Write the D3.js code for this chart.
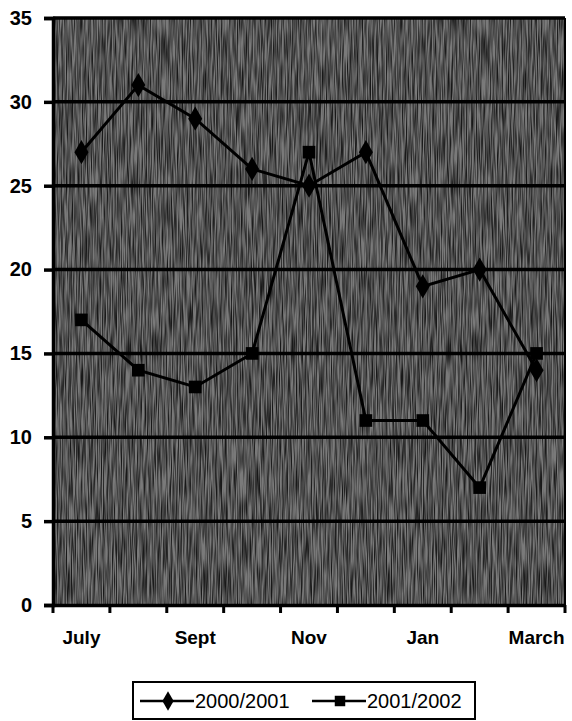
<!DOCTYPE html>
<html><head><meta charset="utf-8">
<script src="https://cdn.jsdelivr.net/npm/d3@7"></script>
<style>body{margin:0;background:#fff}svg{display:block}</style>
</head><body>
<script>
const months = ["July","Aug","Sept","Oct","Nov","Dec","Jan","Feb","March"];
const shownLabels = ["July","Sept","Nov","Jan","March"];
const s2000 = [27,31,29,26,25,27,19,20,14];
const s2002 = [17,14,13,15,27,11,11,7,15];
const seriesNames = ["2000/2001","2001/2002"];
const yTicks = [0,5,10,15,20,25,30,35];

const W=572,H=721;
const m={l:53,r:565,t:18,b:605};
const FONT="Liberation Sans, Arial, sans-serif";
const svg=d3.select("body").append("svg").attr("width",W).attr("height",H);
const defs=svg.append("defs");
const f=defs.append("filter").attr("id","grain").attr("x",0).attr("y",0).attr("width","100%").attr("height","100%");
f.append("feTurbulence").attr("type","fractalNoise").attr("baseFrequency","0.8 0.03").attr("numOctaves",2).attr("seed",5);
f.append("feColorMatrix").attr("type","matrix").attr("values","0 0 0 0 0  0 0 0 0 0  0 0 0 0 0  0 0 0 -2.2 1.5");

const x=d3.scaleBand().domain(months).range([m.l,m.r]);
const y=d3.scaleLinear().domain([0,35]).range([m.b,m.t]);

svg.append("rect").attr("x",m.l).attr("y",m.t).attr("width",m.r-m.l).attr("height",m.b-m.t).attr("fill","#7a7a7a");
svg.append("rect").attr("x",m.l).attr("y",m.t).attr("width",m.r-m.l).attr("height",m.b-m.t).attr("fill","#ffffff").attr("filter","url(#grain)").attr("opacity",0.8);

// gridlines
svg.append("g").selectAll("line").data(yTicks.filter(d=>d>0)).join("line")
  .attr("x1",m.l).attr("x2",m.r).attr("y1",d=>y(d)).attr("y2",d=>y(d))
  .attr("stroke","#000").attr("stroke-width",3.5);
// frame
svg.append("line").attr("x1",m.r).attr("x2",m.r).attr("y1",m.t).attr("y2",m.b).attr("stroke","#000").attr("stroke-width",2);

// y axis
const ya=svg.append("g").attr("transform",`translate(${m.l},0)`)
  .call(d3.axisLeft(y).tickValues(yTicks).tickSize(9).tickPadding(12));
ya.select(".domain").attr("stroke","#000").attr("stroke-width",3.5);
ya.selectAll(".tick line").attr("stroke","#000").attr("stroke-width",3.5);
ya.selectAll("text").attr("font-family",FONT).attr("font-weight","bold").attr("font-size",20).attr("fill","#000");

// x axis
const xa=svg.append("g").attr("transform",`translate(0,${m.b})`)
  .call(d3.axisBottom(x).tickFormat(d=>shownLabels.includes(d)?d:"").tickSize(0).tickPadding(26));
xa.select(".domain").attr("stroke","#000").attr("stroke-width",3.5);
xa.selectAll("text").attr("font-family",FONT).attr("font-weight","bold").attr("font-size",19).attr("fill","#000");
const bounds=months.map(d=>x(d)).concat([x(months[months.length-1])+x.bandwidth()]);
svg.append("g").selectAll("line").data(bounds).join("line")
  .attr("x1",d=>d).attr("x2",d=>d).attr("y1",m.b).attr("y2",m.b+8).attr("stroke","#000").attr("stroke-width",3);

const cx=d=>x(d)+x.bandwidth()/2;
const line=d3.line().x((d,i)=>cx(months[i])).y(d=>y(d));
const dsym=d3.symbol().type(d3.symbolDiamond).size(170);
const ssym=d3.symbol().type(d3.symbolSquare).size(160);

[[s2000,dsym],[s2002,ssym]].forEach(([data,sym])=>{
  svg.append("path").datum(data).attr("d",line).attr("fill","none").attr("stroke","#000").attr("stroke-width",3);
  svg.append("g").selectAll("path").data(data).join("path")
    .attr("transform",(d,i)=>`translate(${cx(months[i])},${y(d)})`).attr("d",sym).attr("fill","#000");
});

// legend
const lg=svg.append("g");
lg.append("rect").attr("x",133).attr("y",682).attr("width",342).attr("height",37).attr("fill","#fff").attr("stroke","#000").attr("stroke-width",2);
const items=[{x:140,sym:d3.symbol().type(d3.symbolDiamond).size(110)},{x:312,sym:d3.symbol().type(d3.symbolSquare).size(110)}];
items.forEach((it,i)=>{
  lg.append("line").attr("x1",it.x).attr("x2",it.x+54).attr("y1",701).attr("y2",701).attr("stroke","#000").attr("stroke-width",2.5);
  lg.append("path").attr("transform",`translate(${it.x+28},701)`).attr("d",it.sym).attr("fill","#000");
  lg.append("text").attr("x",it.x+55).attr("y",708).text(seriesNames[i])
    .attr("font-family",FONT).attr("font-size",20).attr("fill","#000");
});
</script>
</body></html>
